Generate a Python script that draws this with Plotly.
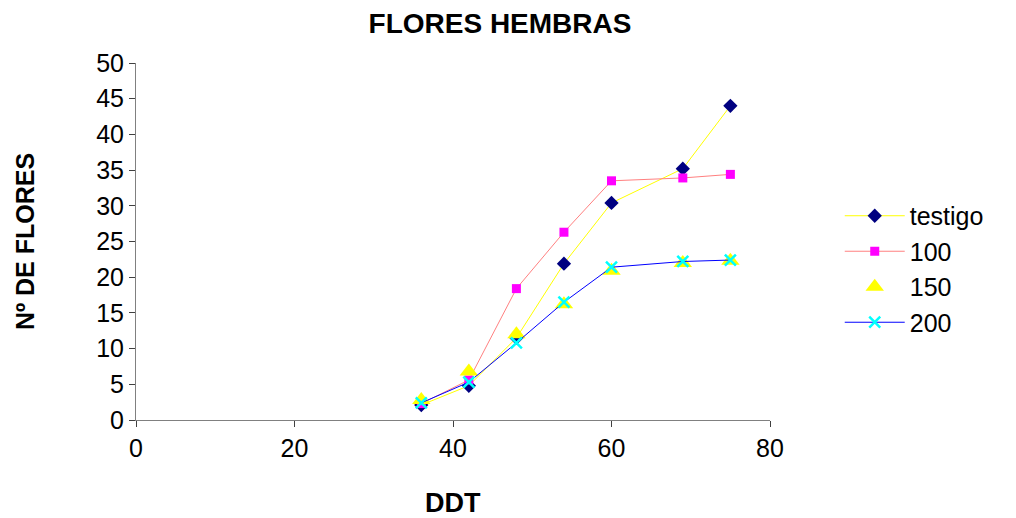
import plotly.graph_objects as go

ddt = [36, 42, 48, 54, 60, 69, 75]
testigo = [2.1, 4.8, 11.5, 21.9, 30.4, 35.2, 44.0]
s100 = [2.3, 5.6, 18.4, 26.3, 33.5, 33.9, 34.4]
s150 = [2.8, 6.8, 12.0, 16.2, 20.9, 22.0, 22.3]
s200 = [2.4, 5.3, 10.8, 16.5, 21.4, 22.2, 22.4]

x_ticks = [0, 20, 40, 60, 80]
y_ticks = [0, 5, 10, 15, 20, 25, 30, 35, 40, 45, 50]

fig = go.Figure()
fig.add_trace(go.Scatter(x=ddt, y=testigo, name="testigo", mode="lines+markers",
                         line=dict(color="#FFFF00", width=1),
                         marker=dict(symbol="diamond", color="#000080", size=11)))
fig.add_trace(go.Scatter(x=ddt, y=s100, name="100", mode="lines+markers",
                         line=dict(color="#FF8080", width=1),
                         marker=dict(symbol="square", color="#FF00FF", size=9)))
fig.add_trace(go.Scatter(x=ddt, y=s150, name="150", mode="markers",
                         marker=dict(symbol="triangle-up", color="#FFFF00", size=16)))
fig.add_trace(go.Scatter(x=ddt, y=s200, name="200", mode="lines+markers",
                         line=dict(color="#0000FF", width=1),
                         marker=dict(symbol="x-thin", size=11,
                                     line=dict(color="#00FFFF", width=2.5))))

font_fam = "Liberation Sans, Arial, sans-serif"
fig.update_layout(
    width=1016, height=518,
    paper_bgcolor="white", plot_bgcolor="white",
    margin=dict(l=136, r=246, t=63, b=98),
    font=dict(family=font_fam, color="black", size=25),
    title=dict(text="<b>FLORES HEMBRAS</b>", x=500/1016, xref="container", xanchor="center",
               y=1 - 23/518, yref="container", yanchor="middle",
               font=dict(size=28, family=font_fam)),
    showlegend=True,
    legend=dict(x=1.11, xanchor="left", y=0.423, yanchor="middle",
                font=dict(size=25, family=font_fam), itemwidth=60,
                tracegroupgap=0, bgcolor="rgba(0,0,0,0)"),
    annotations=[dict(text="<b>DDT</b>", xref="paper", yref="paper",
                      x=0.5, y=-(503 - 420) / 357, xanchor="center", yanchor="middle",
                      showarrow=False, font=dict(size=27, family=font_fam))],
)
fig.update_xaxes(range=[0, 80], tickvals=x_ticks, showgrid=False, zeroline=False,
                 showline=True, linecolor="#808080", linewidth=1,
                 ticks="outside", ticklen=6, tickcolor="#404040",
                 tickfont=dict(size=25), automargin=False)
fig.update_yaxes(range=[0, 50], tickvals=y_ticks, showgrid=False, zeroline=False,
                 showline=True, linecolor="#808080", linewidth=1,
                 ticks="outside", ticklen=6, tickcolor="#404040",
                 tickfont=dict(size=25),
                 title=dict(text="<b>Nº DE FLORES</b>",
                            font=dict(size=25, family=font_fam),
                            standoff=54))

fig.write_html("out.html", config={"displayModeBar": False},
               post_script="document.body.style.margin='0';")
